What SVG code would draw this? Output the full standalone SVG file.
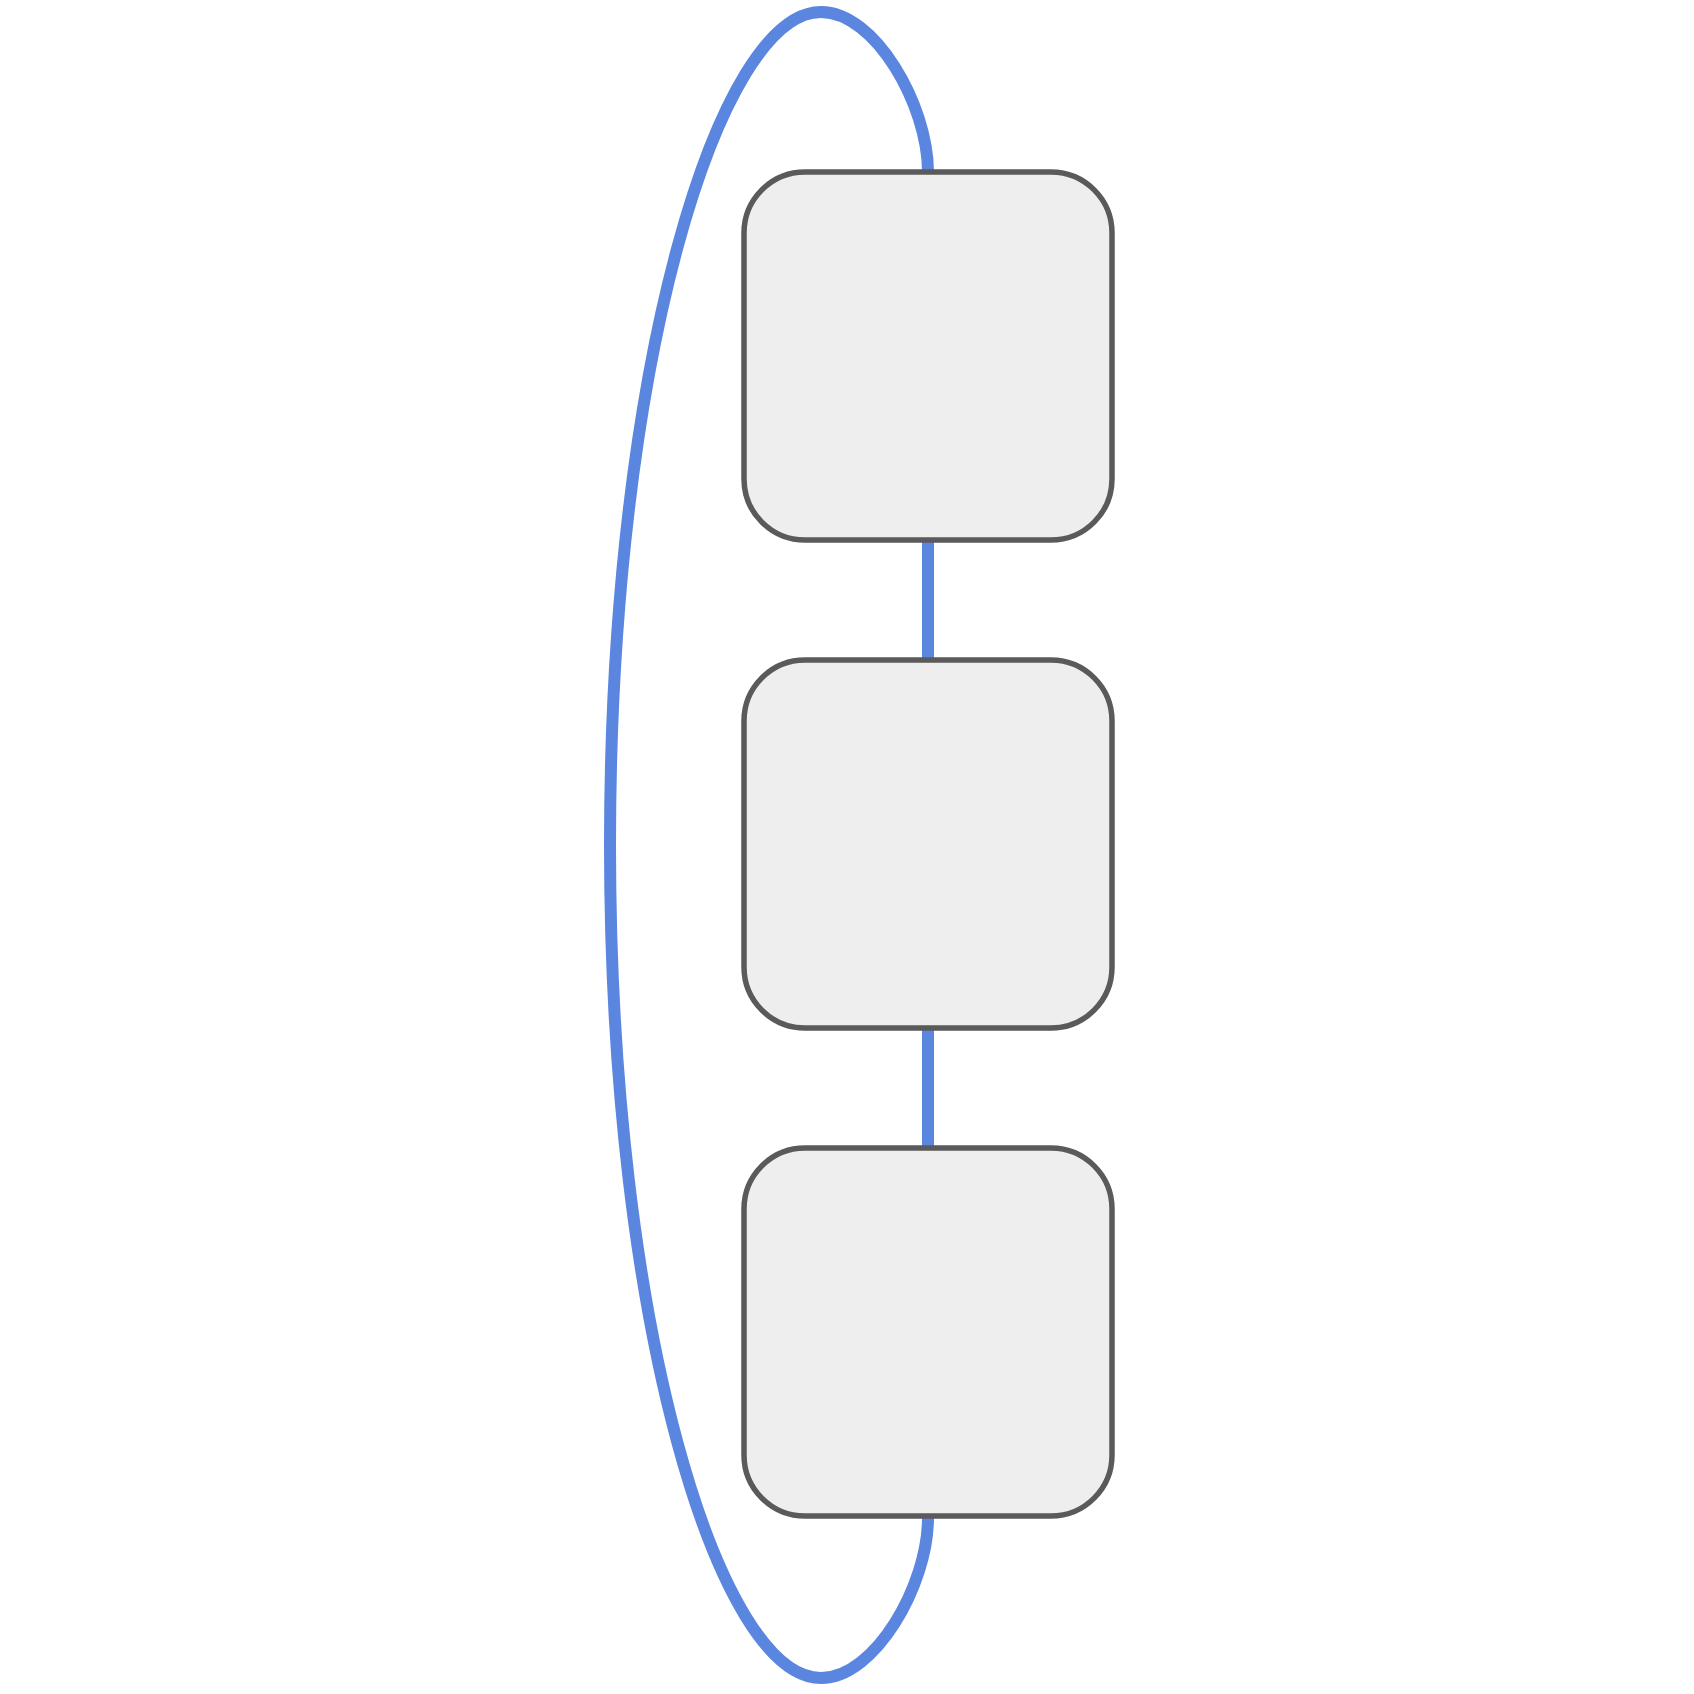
<svg xmlns="http://www.w3.org/2000/svg" width="1694" height="1694" viewBox="0 0 1694 1694">
<style>
.node rect{fill:#eeeeee;stroke:#5a5a5a;stroke-width:5.5}
.edge{fill:none;stroke:#5a86e0;stroke-width:12}
</style>
<rect width="1694" height="1694" fill="#ffffff"/>
<g id="connectors">
<path class="edge" d="M928,540 L928,660"/>
<path class="edge" d="M928,1028 L928,1148"/>
<path class="edge" d="M928,172 C928,105 875,12 821,12 C720,12 610,360 610,845 C610,1330 720,1678 821,1678 C875,1678 928,1585 928,1518"/>
</g>
<g id="node1" class="node"><rect x="744" y="172" width="368" height="368" rx="61"/></g>
<g id="node2" class="node"><rect x="744" y="660" width="368" height="368" rx="61"/></g>
<g id="node3" class="node"><rect x="744" y="1148" width="368" height="368" rx="61"/></g>
</svg>
